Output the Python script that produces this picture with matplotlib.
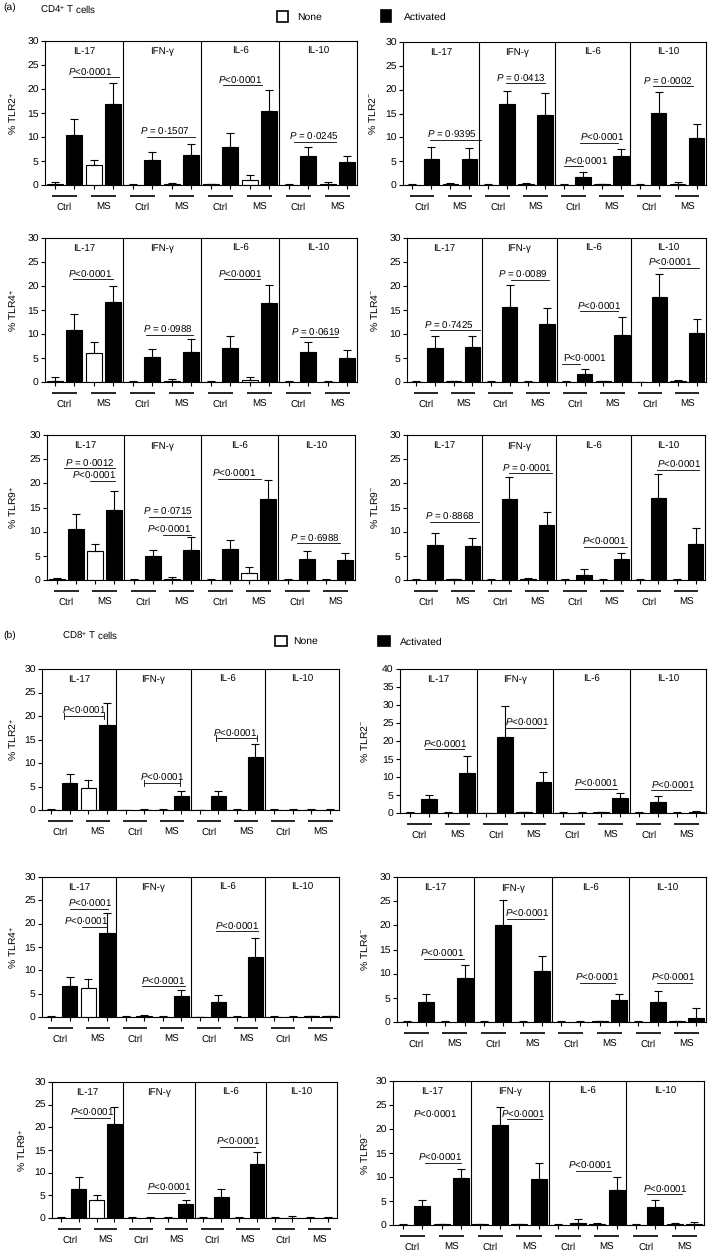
import numpy as np
import matplotlib
matplotlib.use("Agg")
import matplotlib.pyplot as plt
from matplotlib import transforms
from matplotlib.patches import Rectangle

plt.rcParams['font.family'] = ['Liberation Sans', 'DejaVu Sans']
plt.rcParams['mathtext.fontset'] = 'custom'
plt.rcParams['mathtext.rm'] = 'Liberation Sans'
plt.rcParams['mathtext.it'] = 'Liberation Sans:italic'
plt.rcParams['font.size'] = 7
plt.rcParams['text.hinting'] = 'no_hinting'

W, H = 709, 1252

cytokines = ["IL-17", "IFN-γ", "IL-6", "IL-10"]
groups = ["Ctrl", "MS"]
# bar order in each cytokine block: Ctrl-None, Ctrl-Activated, MS-None, MS-Activated
PLT = "$P$<0·0001"

# ---- CD4+ T cells ----
cd4_tlr2p_mean = [0.3, 10.4, 4.1, 16.9, 0.1, 5.3, 0.2, 6.2, 0.2, 8.0, 1.0, 15.4, 0.1, 6.0, 0.3, 4.7]
cd4_tlr2p_err = [0.3, 3.4, 1.2, 4.3, 0.1, 1.5, 0.2, 2.4, 0.1, 2.8, 1.1, 4.4, 0.1, 2.0, 0.3, 1.3]
cd4_tlr2p_p = [(0.96, 3.27, 22.4, PLT, 1.81, False),
               (4.72, 7.2, 10.1, "$P$ = 0·1507", 5.63, False),
               (8.63, 10.63, 20.8, PLT, 9.52, False),
               (12.26, 14.4, 9.05, "$P$ = 0·0245", 13.28, False)]

cd4_tlr2n_mean = [0.1, 5.4, 0.3, 5.4, 0.1, 16.9, 0.3, 14.6, 0.1, 1.6, 0.2, 6.0, 0.1, 15.1, 0.3, 9.8]
cd4_tlr2n_err = [0.1, 2.6, 0.2, 2.3, 0.1, 2.9, 0.2, 4.6, 0.1, 1.1, 0.1, 1.6, 0.1, 4.5, 0.3, 2.9]
cd4_tlr2n_p = [(0.9, 3.6, 9.5, "$P$ = 0·9395", 2.09, False),
               (4.92, 7.02, 21.3, "$P$ = 0·0413", 5.7, False),
               (7.98, 9.03, 3.9, PLT, 9.19, False),
               (8.85, 10.86, 8.9, PLT, 10.02, False),
               (12.7, 14.8, 20.7, "$P$ = 0·0002", 13.5, False)]

cd4_tlr4p_mean = [0.3, 10.9, 6.0, 16.6, 0.1, 5.2, 0.2, 6.3, 0.1, 7.0, 0.4, 16.4, 0.1, 6.3, 0.1, 5.0]
cd4_tlr4p_err = [0.7, 3.3, 2.4, 3.4, 0.1, 1.6, 0.4, 2.7, 0.1, 2.6, 0.6, 3.8, 0.1, 2.1, 0.1, 1.7]
cd4_tlr4p_p = [(0.93, 2.99, 21.4, PLT, 1.79, False),
               (4.7, 7.1, 9.8, "$P$ = 0·0988", 5.8, False),
               (8.66, 10.55, 21.4, PLT, 9.52, False),
               (12.6, 14.5, 9.3, "$P$ = 0·0619", 13.4, False)]

cd4_tlr4n_mean = [0.1, 7.0, 0.2, 7.3, 0.1, 15.7, 0.1, 12.1, 0.1, 1.6, 0.2, 9.8, 0.05, 17.8, 0.3, 10.3]
cd4_tlr4n_err = [0.1, 2.6, 0.1, 2.2, 0.1, 4.6, 0.1, 3.3, 0.1, 1.2, 0.1, 3.8, 0.05, 4.7, 0.2, 2.8]
cd4_tlr4n_p = [(0.74, 3.39, 10.8, "$P$ = 0·7425", 1.71, False),
               (5.07, 7.1, 21.3, "$P$ = 0·0089", 5.72, False),
               (7.8, 8.78, 3.8, "P<0·0001", 9.0, False),
               (8.78, 10.8, 14.7, PLT, 9.75, False),
               (13.0, 15.1, 23.75, PLT, 13.55, False)]

cd4_tlr9p_mean = [0.2, 10.5, 5.9, 14.5, 0.1, 5.0, 0.3, 6.2, 0.1, 6.4, 1.5, 16.8, 0.1, 4.4, 0.1, 4.2]
cd4_tlr9p_err = [0.2, 3.1, 1.6, 3.9, 0.2, 1.3, 0.4, 2.6, 0.1, 1.9, 1.1, 3.8, 0.1, 1.7, 0.2, 1.3]
cd4_tlr9p_p = [(0.36, 3.05, 23.1, "$P$ = 0·0012", 1.7, False),
               (1.71, 3.05, 20.5, PLT, 1.92, False),
               (4.78, 7.0, 13.1, "$P$ = 0·0715", 5.78, False),
               (5.55, 6.97, 9.3, PLT, 5.83, False),
               (8.4, 10.6, 21.0, PLT, 9.2, False),
               (12.5, 14.7, 7.6, "$P$ = 0·6988", 13.4, False)]

cd4_tlr9n_mean = [0.1, 7.3, 0.2, 7.1, 0.1, 16.7, 0.2, 11.3, 0.1, 1.1, 0.1, 4.4, 0.1, 16.9, 0.1, 7.4]
cd4_tlr9n_err = [0.1, 2.5, 0.1, 1.5, 0.1, 4.7, 0.2, 2.8, 0.1, 1.1, 0.1, 1.2, 0.1, 5.1, 0.2, 3.3]
cd4_tlr9n_p = [(0.75, 3.34, 12.1, "$P$ = 0·8868", 1.77, False),
               (4.96, 7.28, 22.1, "$P$ = 0·0001", 5.94, False),
               (8.98, 11.3, 6.9, PLT, 10.1, False),
               (12.9, 15.2, 22.8, PLT, 14.08, False)]

# ---- CD8+ T cells ----
cd8_tlr2p_mean = [0.1, 5.7, 4.7, 18.0, 0.0, 0.1, 0.1, 2.9, 0.0, 2.9, 0.1, 11.2, 0.1, 0.1, 0.1, 0.1]
cd8_tlr2p_err = [0.1, 2.0, 1.6, 4.7, 0.0, 0.2, 0.2, 1.2, 0.0, 1.1, 0.2, 2.8, 0.2, 0.2, 0.2, 0.2]
cd8_tlr2p_p = [(0.66, 2.85, 20.0, PLT, 1.74, True),
               (4.97, 6.94, 5.8, PLT, 5.95, True),
               (8.87, 11.06, 15.3, PLT, 9.9, True)]

cd8_tlr2n_mean = [0.1, 3.8, 0.1, 11.0, 0.0, 21.2, 0.2, 8.7, 0.1, 0.1, 0.2, 4.3, 0.1, 3.0, 0.1, 0.3]
cd8_tlr2n_err = [0.1, 1.1, 0.1, 4.9, 0.1, 8.6, 0.1, 2.8, 0.1, 0.1, 0.1, 1.2, 0.1, 1.6, 0.2, 0.3]
cd8_tlr2n_p = [(0.8, 2.87, 17.7, PLT, 1.84, False),
               (5.04, 7.1, 23.7, PLT, 6.16, False),
               (8.67, 10.83, 6.7, PLT, 9.76, False),
               (12.65, 14.7, 6.3, PLT, 13.77, False)]

cd8_tlr4p_mean = [0.1, 6.6, 6.3, 17.9, 0.1, 0.2, 0.1, 4.4, 0.0, 3.2, 0.1, 12.8, 0.1, 0.1, 0.2, 0.2]
cd8_tlr4p_err = [0.1, 1.9, 1.9, 4.4, 0.1, 0.3, 0.1, 1.3, 0.0, 1.5, 0.2, 4.2, 0.1, 0.1, 0.1, 0.1]
cd8_tlr4p_p = [(1.02, 3.08, 23.2, PLT, 2.1, False),
               (1.65, 2.99, 19.3, PLT, 1.87, False),
               (4.88, 7.2, 6.6, PLT, 6.04, False),
               (8.9, 11.15, 18.4, PLT, 10.0, False)]

cd8_tlr4n_mean = [0.1, 4.2, 0.1, 9.1, 0.1, 20.1, 0.1, 10.6, 0.1, 0.1, 0.2, 4.6, 0.1, 4.2, 0.2, 0.8]
cd8_tlr4n_err = [0.1, 1.6, 0.1, 2.7, 0.1, 5.1, 0.1, 3.0, 0.1, 0.1, 0.1, 1.2, 0.1, 2.2, 0.1, 2.2]
cd8_tlr4n_p = [(0.88, 2.95, 13.1, PLT, 1.81, False),
               (5.19, 7.09, 21.4, PLT, 6.22, False),
               (8.98, 10.79, 8.1, PLT, 9.84, False),
               (12.95, 14.8, 8.1, PLT, 13.81, False)]

cd8_tlr9p_mean = [0.1, 6.4, 4.0, 20.8, 0.0, 0.1, 0.1, 3.1, 0.1, 4.7, 0.1, 12.0, 0.0, 0.1, 0.1, 0.1]
cd8_tlr9p_err = [0.1, 2.7, 1.1, 3.6, 0.2, 0.2, 0.2, 0.9, 0.1, 1.7, 0.2, 2.5, 0.2, 0.3, 0.2, 0.2]
cd8_tlr9p_p = [(0.71, 2.76, 22.1, PLT, 1.74, False),
               (4.82, 6.96, 5.5, PLT, 6.07, False),
               (8.92, 10.88, 15.7, PLT, 9.93, False)]

cd8_tlr9n_mean = [0.1, 4.0, 0.2, 9.7, 0.2, 20.8, 0.2, 9.6, 0.1, 0.4, 0.3, 7.2, 0.1, 3.8, 0.3, 0.3]
cd8_tlr9n_err = [0.1, 1.3, 0.1, 2.0, 0.1, 3.7, 0.1, 3.3, 0.1, 0.8, 0.1, 2.9, 0.1, 1.5, 0.1, 0.4]
cd8_tlr9n_p = [(None, None, 22.0, PLT, 1.68, False),
               (1.13, 3.02, 13.0, PLT, 1.9, False),
               (5.34, 7.14, 22.0, PLT, 6.2, False),
               (8.94, 10.74, 11.3, PLT, 9.63, False),
               (12.55, 14.35, 6.4, PLT, 13.49, False)]

# layout: (box left, top, right, bottom in px), ylabel x px, ymax
panels = [
    (cd4_tlr2p_mean, cd4_tlr2p_err, cd4_tlr2p_p, "% TLR2$^{+}$", (45, 41, 357, 185), 13, 30),
    (cd4_tlr2n_mean, cd4_tlr2n_err, cd4_tlr2n_p, "% TLR2$^{-}$", (403, 42, 706, 185), 373, 30),
    (cd4_tlr4p_mean, cd4_tlr4p_err, cd4_tlr4p_p, "% TLR4$^{+}$", (45, 238, 357, 382), 13, 30),
    (cd4_tlr4n_mean, cd4_tlr4n_err, cd4_tlr4n_p, "% TLR4$^{-}$", (407, 238, 706, 382), 375, 30),
    (cd4_tlr9p_mean, cd4_tlr9p_err, cd4_tlr9p_p, "% TLR9$^{+}$", (47, 435, 355, 580), 13, 30),
    (cd4_tlr9n_mean, cd4_tlr9n_err, cd4_tlr9n_p, "% TLR9$^{-}$", (407, 435, 705, 580), 375, 30),
    (cd8_tlr2p_mean, cd8_tlr2p_err, cd8_tlr2p_p, "% TLR2$^{+}$", (42, 669, 339, 810), 13, 30),
    (cd8_tlr2n_mean, cd8_tlr2n_err, cd8_tlr2n_p, "% TLR2$^{-}$", (400, 669, 706, 813), 365, 40),
    (cd8_tlr4p_mean, cd8_tlr4p_err, cd8_tlr4p_p, "% TLR4$^{+}$", (42, 877, 339, 1017), 13, 30),
    (cd8_tlr4n_mean, cd8_tlr4n_err, cd8_tlr4n_p, "% TLR4$^{-}$", (397, 877, 706, 1022), 365, 30),
    (cd8_tlr9p_mean, cd8_tlr9p_err, cd8_tlr9p_p, "% TLR9$^{+}$", (52, 1082, 337, 1218), 22, 30),
    (cd8_tlr9n_mean, cd8_tlr9n_err, cd8_tlr9n_p, "% TLR9$^{-}$", (393, 1081, 704, 1225), 365, 30),
]

LW = 0.8
fig = plt.figure(figsize=(W / 100, H / 100), dpi=100)


def draw_panel(mean, err, notes, ylabel, box, ylab_x, ymax):
    l, t, r, b = box
    ax = fig.add_axes([l / W, 1 - b / H, (r - l) / W, (b - t) / H])
    x = np.arange(16)
    colors = ['white' if i % 2 == 0 else 'black' for i in x]
    ax.bar(x, mean, width=0.82, color=colors, edgecolor='black', linewidth=LW, zorder=2)
    ax.errorbar(x, mean, yerr=[np.zeros(16), err], fmt='none', ecolor='black',
                elinewidth=LW, capsize=2.8, capthick=LW, zorder=3)
    for s in [3.5, 7.5, 11.5]:
        ax.axvline(s, color='black', lw=LW)
    ax.set_xlim(-0.5, 15.5)
    ax.set_ylim(0, ymax)
    ax.set_yticks(np.arange(0, ymax + 1, 5))
    ax.set_xticks(x)
    ax.set_xticklabels([])
    ax.tick_params(axis='both', direction='out', length=3, width=LW, labelsize=7.5, pad=1.5)
    for sp in ax.spines.values():
        sp.set_linewidth(LW)

    trans = transforms.blended_transform_factory(ax.transData, ax.transAxes)
    for k, name in enumerate(cytokines):
        ax.text(4 * k + 1.5, 0.925, name, transform=trans, ha='center', va='center', fontsize=7)

    line_tr = transforms.offset_copy(trans, fig=fig, x=0, y=-11, units='dots')
    lab_tr = transforms.offset_copy(trans, fig=fig, x=0, y=-22, units='dots')
    for k in range(4):
        for g, gname in enumerate(groups):
            x0 = 4 * k + 2 * g
            ax.plot([x0 - 0.15, x0 + 1.15], [0, 0], transform=line_tr, color='black',
                    lw=1.2, clip_on=False, solid_capstyle='butt')
            ax.text(x0 + 0.5, 0, gname, transform=lab_tr, ha='center', va='center', fontsize=7)

    cap = 0.045 * ymax
    for x0, x1, y, txt, xt, caps in notes:
        if x0 is not None:
            ax.plot([x0, x1], [y, y], color='black', lw=0.6)
            if caps:
                for xc in (x0, x1):
                    ax.plot([xc, xc], [y - cap / 2, y + cap / 2], color='black', lw=0.6)
        ax.annotate(txt, (xt, y), xytext=(0, 1.2), textcoords='offset points',
                    ha='center', va='baseline', fontsize=7)

    fig.text(ylab_x / W, 1 - (t + b) / 2 / H, ylabel, rotation=90,
             ha='center', va='center', fontsize=7.5)
    return ax


for p in panels:
    draw_panel(*p)


def legend_box(x, y, w, h, fc):
    fig.add_artist(Rectangle((x / W, 1 - (y + h) / H), w / W, h / H, transform=fig.transFigure,
                             facecolor=fc, edgecolor='black', linewidth=1.2))


def ftext(x, y, s, **kw):
    fig.text(x / W, 1 - y / H, s, va='center', **kw)


ftext(3, 7, "(a)", fontsize=7.5)
ftext(40, 9, "CD4$^{+}$ T cells", fontsize=7)
legend_box(277, 11, 11, 11, 'white')
ftext(297, 17, "None", fontsize=7.5)
legend_box(381, 10, 10, 12, 'black')
ftext(404, 17, "Activated", fontsize=7.5)

ftext(3, 635, "(b)", fontsize=7.5)
ftext(62, 635, "CD8$^{+}$ T cells", fontsize=7)
legend_box(275, 636, 12, 10, 'white')
ftext(293, 641, "None", fontsize=7.5)
legend_box(378, 636, 12, 10, 'black')
ftext(400, 642, "Activated", fontsize=7.5)

fig.savefig("out.png", dpi=100)
